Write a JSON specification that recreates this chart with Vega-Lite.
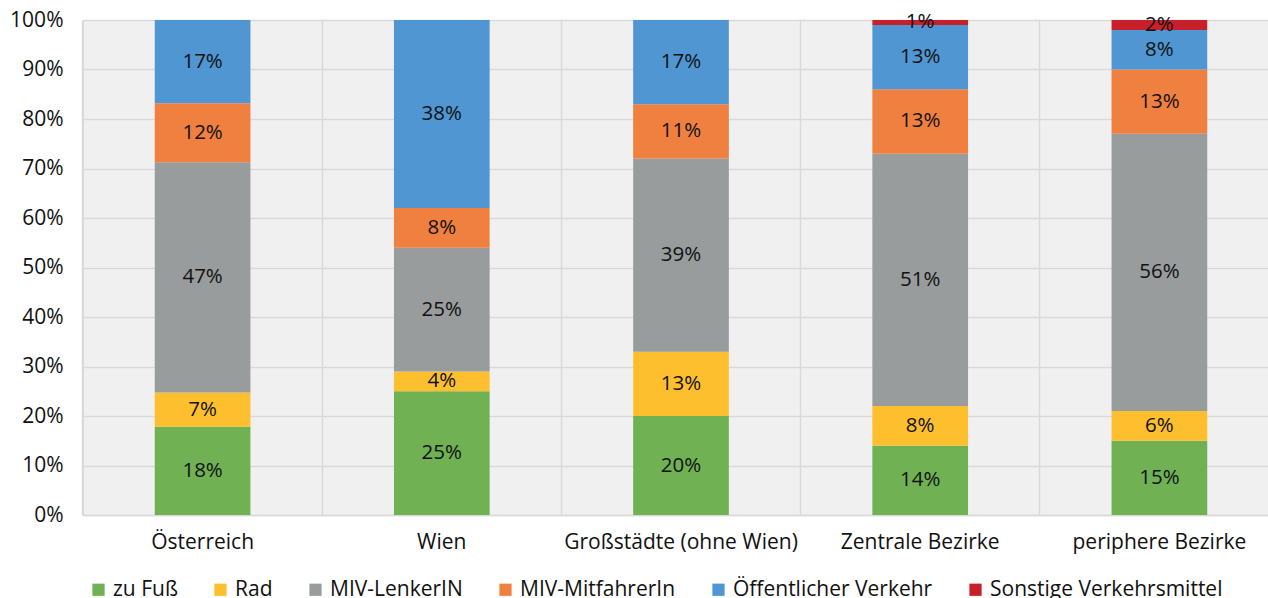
{
  "$schema": "https://vega.github.io/schema/vega-lite/v6.json",
  "width": 1196,
  "height": 495,
  "autosize": {"type": "none"},
  "padding": {"left": 83, "top": 20, "right": 0, "bottom": 83},
  "background": "white",
  "config": {
    "font": "Open Sans",
    "view": {"fill": "#f0f0f0", "stroke": "#d9d9d9", "strokeWidth": 1}
  },
  "data": {
    "values": [
      {"region": "Österreich", "mode": "zu Fuß", "share": 0.18},
      {"region": "Österreich", "mode": "Rad", "share": 0.07},
      {"region": "Österreich", "mode": "MIV-LenkerIN", "share": 0.47},
      {"region": "Österreich", "mode": "MIV-MitfahrerIn", "share": 0.12},
      {"region": "Österreich", "mode": "Öffentlicher Verkehr", "share": 0.17},
      {"region": "Wien", "mode": "zu Fuß", "share": 0.25},
      {"region": "Wien", "mode": "Rad", "share": 0.04},
      {"region": "Wien", "mode": "MIV-LenkerIN", "share": 0.25},
      {"region": "Wien", "mode": "MIV-MitfahrerIn", "share": 0.08},
      {"region": "Wien", "mode": "Öffentlicher Verkehr", "share": 0.38},
      {"region": "Großstädte (ohne Wien)", "mode": "zu Fuß", "share": 0.20},
      {"region": "Großstädte (ohne Wien)", "mode": "Rad", "share": 0.13},
      {"region": "Großstädte (ohne Wien)", "mode": "MIV-LenkerIN", "share": 0.39},
      {"region": "Großstädte (ohne Wien)", "mode": "MIV-MitfahrerIn", "share": 0.11},
      {"region": "Großstädte (ohne Wien)", "mode": "Öffentlicher Verkehr", "share": 0.17},
      {"region": "Zentrale Bezirke", "mode": "zu Fuß", "share": 0.14},
      {"region": "Zentrale Bezirke", "mode": "Rad", "share": 0.08},
      {"region": "Zentrale Bezirke", "mode": "MIV-LenkerIN", "share": 0.51},
      {"region": "Zentrale Bezirke", "mode": "MIV-MitfahrerIn", "share": 0.13},
      {"region": "Zentrale Bezirke", "mode": "Öffentlicher Verkehr", "share": 0.13},
      {"region": "Zentrale Bezirke", "mode": "Sonstige Verkehrsmittel", "share": 0.01},
      {"region": "periphere Bezirke", "mode": "zu Fuß", "share": 0.15},
      {"region": "periphere Bezirke", "mode": "Rad", "share": 0.06},
      {"region": "periphere Bezirke", "mode": "MIV-LenkerIN", "share": 0.56},
      {"region": "periphere Bezirke", "mode": "MIV-MitfahrerIn", "share": 0.13},
      {"region": "periphere Bezirke", "mode": "Öffentlicher Verkehr", "share": 0.08},
      {"region": "periphere Bezirke", "mode": "Sonstige Verkehrsmittel", "share": 0.02}
    ]
  },
  "transform": [
    {"calculate": "indexof(['zu Fuß','Rad','MIV-LenkerIN','MIV-MitfahrerIn','Öffentlicher Verkehr','Sonstige Verkehrsmittel'], datum.mode)", "as": "ord"},
    {"stack": "share", "groupby": ["region"], "sort": [{"field": "ord", "order": "ascending"}], "as": ["v0", "v1"], "offset": "normalize"},
    {"calculate": "(datum.v0 + datum.v1) / 2", "as": "mid"}
  ],
  "encoding": {
    "x": {
      "field": "region",
      "type": "nominal",
      "sort": ["Österreich", "Wien", "Großstädte (ohne Wien)", "Zentrale Bezirke", "periphere Bezirke"],
      "scale": {"paddingInner": 0.6, "paddingOuter": 0.3}
    }
  },
  "layer": [
    {
      "mark": {"type": "bar"},
      "encoding": {
        "x": {
          "field": "region",
          "type": "nominal",
          "sort": ["Österreich", "Wien", "Großstädte (ohne Wien)", "Zentrale Bezirke", "periphere Bezirke"],
          "title": null,
          "axis": {
            "orient": "bottom",
            "grid": false,
            "ticks": false,
            "domain": true,
            "domainColor": "#d9d9d9",
            "domainWidth": 1.5,
            "labelAngle": 0,
            "labelFontSize": 21,
            "labelColor": "#111111",
            "labelPadding": 16,
            "labelLimit": 400
          }
        },
        "y": {
          "field": "v0",
          "type": "quantitative",
          "scale": {"domain": [0, 1]},
          "title": null,
          "axis": {
            "format": ".0%",
            "values": [0, 0.1, 0.2, 0.3, 0.4, 0.5, 0.6, 0.7, 0.8, 0.9, 1],
            "grid": true,
            "gridColor": "#d9d9d9",
            "gridWidth": 1.5,
            "ticks": false,
            "domain": false,
            "labelFontSize": 21,
            "labelColor": "#111111",
            "labelPadding": 20
          }
        },
        "y2": {"field": "v1"},
        "color": {
          "field": "mode",
          "type": "nominal",
          "scale": {
            "domain": ["zu Fuß", "Rad", "MIV-LenkerIN", "MIV-MitfahrerIn", "Öffentlicher Verkehr", "Sonstige Verkehrsmittel"],
            "range": ["#6fb153", "#fdbf2d", "#999c9d", "#f08040", "#4f96d2", "#c8202a"]
          },
          "legend": {
            "title": null,
            "orient": "bottom",
            "direction": "horizontal",
            "columns": 6,
            "symbolType": "square",
            "symbolSize": 150,
            "symbolStrokeWidth": 0,
            "symbolOpacity": 1,
            "labelFontSize": 21,
            "labelColor": "#111111",
            "labelLimit": 400,
            "columnPadding": 32,
            "padding": 5,
            "offset": 22
          }
        }
      }
    },
    {
      "mark": {"type": "text", "fontSize": 20.5, "color": "#111111", "baseline": "middle"},
      "encoding": {
        "x": {
          "field": "region",
          "type": "nominal",
          "sort": ["Österreich", "Wien", "Großstädte (ohne Wien)", "Zentrale Bezirke", "periphere Bezirke"],
          "title": null,
          "axis": {
            "orient": "bottom",
            "grid": true,
            "gridColor": "#d9d9d9",
            "gridWidth": 1.5,
            "bandPosition": -0.75,
            "labels": false,
            "ticks": false,
            "domain": false
          }
        },
        "y": {"field": "mid", "type": "quantitative"},
        "text": {"field": "share", "type": "quantitative", "format": ".0%"}
      }
    }
  ],
  "resolve": {"axis": {"x": "independent"}}
}
